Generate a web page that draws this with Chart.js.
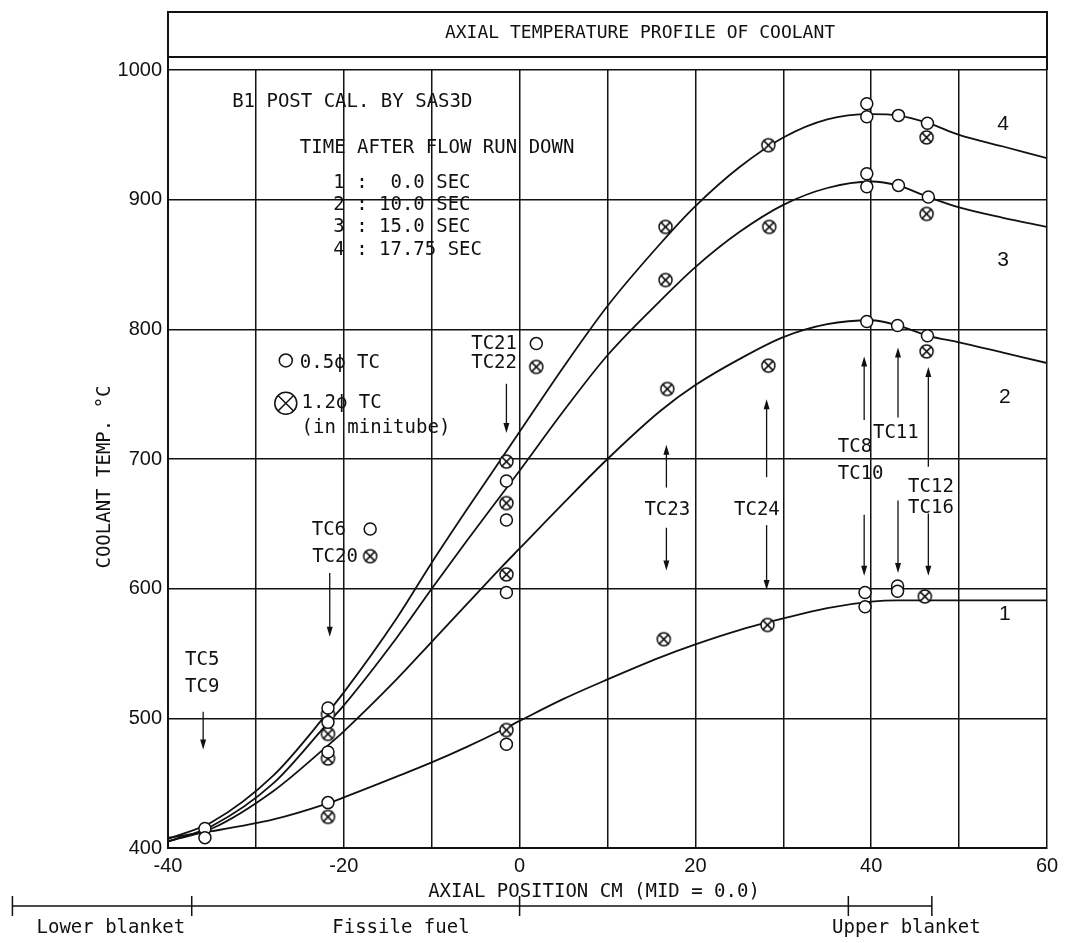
<!DOCTYPE html>
<html>
<head>
<meta charset="utf-8">
<script src="https://cdn.jsdelivr.net/npm/chart.js@4.4.1/dist/chart.umd.min.js"></script>
<style>
  html, body { margin: 0; padding: 0; background: #fff; }
</style>
</head>
<body>
<canvas id="chart" width="1067" height="943"></canvas>
<script>
// Axial positions (cm, mid-plane = 0) where the SAS3D curves are sampled
const positions = [-40, -35, -28, -22, -20, -14, -10, -6, -2, 0, 5, 10, 16, 20, 25, 30, 35, 40, 43, 46.5, 50, 55, 60];

// Calculated coolant temperature (°C) at 0.0, 10.0, 15.0 and 17.75 s after flow run down
const curve1 = [408, 413, 422, 434, 439, 455, 466, 478, 491, 498, 515, 530, 547, 557, 568, 577, 585, 590, 591, 591, 591, 591, 591];
const curve2 = [405, 415, 444, 478, 490, 530, 559, 588, 617, 631, 666, 700, 737, 757, 777, 794, 804, 807, 803, 795, 790, 782, 774];
const curve3 = [405, 417, 450, 495, 510, 562, 600, 637, 673, 691, 737, 780, 822, 848, 875, 896, 909, 914, 911, 902, 894, 886, 879];
const curve4 = [407, 420, 456, 503, 520, 577, 620, 661, 701, 721, 771, 818, 866, 895, 925, 948, 962, 966, 965, 959, 950, 941, 932];
const curveNames = ['1', '2', '3', '4'];

// Measured points, 0.5 mm TC (open circles)
const smallTcX = [-35.8, -35.8, -21.8, -21.8, -21.8, -21.8, -17, -1.5, -1.5, -1.5, -1.5, 1.9,
  39.5, 39.5, 43.1, 46.4, 39.5, 39.5, 43.1, 46.5, 39.5, 43.0, 46.4, 39.3, 39.3, 43.0, 43.0];
const smallTcY = [415, 408, 508, 497, 474, 435, 646, 683, 653, 597, 480, 789,
  974, 964, 965, 959, 920, 910, 911, 902, 806, 803, 795, 597, 586, 602, 598];

// Measured points, 1.2 mm TC in minitube (crossed circles)
const miniTcX = [-21.8, -21.8, -21.8, -21.8, -17, -1.5, -1.5, -1.5, -1.5, 1.9,
  16.6, 16.6, 16.8, 16.4, 28.3, 28.4, 28.3, 28.2, 46.3, 46.3, 46.3, 46.1];
const miniTcY = [503, 488, 469, 424, 625, 698, 666, 611, 491, 771,
  879, 838, 754, 561, 942, 879, 772, 572, 948, 889, 783, 594];

// Region boundaries along the pin (cm)
const regionEdges = [-57.7, -37.3, 0, 37.4, 46.9];

const mono = "'DejaVu Sans Mono', monospace";
const sans = "'Liberation Sans Narrow', 'Liberation Sans', Arial, sans-serif";
const ink = '#111';

function drawCrossCircle(g, x, y, r) {
  g.save();
  g.lineWidth = 1.5;
  g.strokeStyle = ink;
  g.fillStyle = '#fff';
  g.beginPath();
  g.arc(x, y, r, 0, Math.PI * 2);
  g.fill();
  g.stroke();
  const d = r * 0.7071;
  g.beginPath();
  g.moveTo(x - d, y - d); g.lineTo(x + d, y + d);
  g.moveTo(x + d, y - d); g.lineTo(x - d, y + d);
  g.stroke();
  g.restore();
}

function crossCircleStyle(r) {
  const size = Math.ceil(2 * r + 4);
  const c = document.createElement('canvas');
  c.width = c.height = size;
  drawCrossCircle(c.getContext('2d'), size / 2, size / 2, r);
  return c;
}

function arrow(g, x, yFrom, yTo) {
  const dir = yTo > yFrom ? 1 : -1;
  g.beginPath();
  g.moveTo(x, yFrom);
  g.lineTo(x, yTo - dir * 4);
  g.stroke();
  g.beginPath();
  g.moveTo(x, yTo);
  g.lineTo(x - 3, yTo - dir * 10);
  g.lineTo(x + 3, yTo - dir * 10);
  g.closePath();
  g.fill();
}

// text labels: [text, x, y, align]
const notes = [
  ['B1 POST CAL. BY SAS3D', -32.7, 975, 'left'],
  ['TIME AFTER FLOW RUN DOWN', -25, 940, 'left'],
  ['1 :  0.0 SEC', -21.2, 913, 'left'],
  ['2 : 10.0 SEC', -21.2, 896, 'left'],
  ['3 : 15.0 SEC', -21.2, 879, 'left'],
  ['4 : 17.75 SEC', -21.2, 861, 'left'],
  ['0.5\u03d5 TC', -25, 774, 'left'],
  ['1.2\u03d5 TC', -24.8, 743, 'left'],
  ['(in minitube)', -24.8, 724, 'left'],
  ['TC21', -2.9, 789, 'center'],
  ['TC22', -2.9, 774, 'center'],
  ['TC6', -21.7, 645, 'center'],
  ['TC20', -21.0, 624, 'center'],
  ['TC5', -36.1, 545, 'center'],
  ['TC9', -36.1, 524, 'center'],
  ['TC23', 16.8, 661, 'center'],
  ['TC24', 27.0, 661, 'center'],
  ['TC8', 36.2, 709, 'left'],
  ['TC10', 36.2, 688, 'left'],
  ['TC11', 40.2, 720, 'left'],
  ['TC12', 44.2, 678, 'left'],
  ['TC16', 44.2, 662, 'left']
];

// arrows: [x, from, to] in data units
const arrows = [
  [-1.5, 758, 720], [-21.6, 612, 563], [-36.0, 505, 476],
  [16.7, 678, 711], [16.7, 647, 614],
  [28.1, 686, 746], [28.1, 649, 599],
  [39.2, 730, 779], [39.2, 657, 610],
  [43.05, 732, 786], [43.05, 668, 612],
  [46.5, 694, 771], [46.5, 658, 610]
];

const curveLabelPos = [[55.2, 580], [55.2, 748], [55, 853], [55, 958]];

const annotate = {
  id: 'annotate',
  afterDraw(chart) {
    const g = chart.ctx;
    const xs = chart.scales.x, ys = chart.scales.y;
    const area = chart.chartArea;
    const px = v => xs.getPixelForValue(v);
    const py = v => ys.getPixelForValue(v);

    g.save();
    g.fillStyle = ink;
    g.strokeStyle = ink;

    // title box above the plot
    g.lineWidth = 2;
    g.strokeRect(area.left, 12, area.right - area.left, 45);
    g.beginPath();
    g.moveTo(area.left, 12); g.lineTo(area.left, area.top);
    g.moveTo(area.right, 12); g.lineTo(area.right, area.top);
    g.stroke();
    g.font = '18px ' + mono;
    g.textAlign = 'center';
    g.textBaseline = 'middle';
    g.fillText('AXIAL TEMPERATURE PROFILE OF COOLANT', 640, 33);

    // notes and TC labels
    g.font = '19px ' + mono;
    notes.forEach(([t, x, y, align]) => {
      g.textAlign = align;
      g.fillText(t, px(x), py(y));
    });

    // legend symbols
    g.lineWidth = 1.5;
    g.beginPath();
    g.arc(px(-26.6), py(776), 6.5, 0, Math.PI * 2);
    g.stroke();
    drawCrossCircle(g, px(-26.6), py(743), 11);

    // arrows
    g.lineWidth = 1.3;
    arrows.forEach(([x, a, b]) => arrow(g, px(x), py(a), py(b)));

    // curve numbers
    g.font = '21px ' + sans;
    g.textAlign = 'center';
    curveLabelPos.forEach(([x, y], i) => g.fillText(curveNames[i], px(x), py(y)));

    // axis titles
    g.font = '19px ' + mono;
    g.fillText('AXIAL POSITION CM (MID = 0.0)', 594, 892);
    g.save();
    g.translate(105, 477);
    g.rotate(-Math.PI / 2);
    g.fillText('COOLANT TEMP. \u00b0C', 0, 0);
    g.restore();

    // core region bar below the axis
    const barY = 906;
    g.lineWidth = 1.5;
    g.beginPath();
    g.moveTo(px(regionEdges[0]), barY);
    g.lineTo(px(regionEdges[regionEdges.length - 1]), barY);
    regionEdges.forEach(e => {
      g.moveTo(px(e), barY - 10);
      g.lineTo(px(e), barY + 10);
    });
    g.stroke();
    g.font = '19px ' + mono;
    g.fillText('Lower blanket', px(-46.5), 928);
    g.fillText('Fissile fuel', px(-13.5), 928);
    g.fillText('Upper blanket', px(44), 928);

    g.restore();
  }
};

const toPoints = (xs, ys) => xs.map((x, i) => ({ x: x, y: ys[i] }));

const curveDatasets = [curve1, curve2, curve3, curve4].map((c, i) => ({
  label: curveNames[i],
  data: toPoints(positions, c),
  showLine: true,
  pointRadius: 0,
  borderColor: ink,
  borderWidth: 1.8,
  cubicInterpolationMode: 'monotone',
  order: 1
}));

const ctx = document.getElementById('chart').getContext('2d');

new Chart(ctx, {
  type: 'scatter',
  data: {
    datasets: [
      {
        label: '0.5\u03d5 TC',
        data: toPoints(smallTcX, smallTcY),
        pointStyle: 'circle',
        pointRadius: 6,
        borderColor: ink,
        backgroundColor: '#fff',
        borderWidth: 1.5,
        order: 0
      },
      {
        label: '1.2\u03d5 TC',
        data: toPoints(miniTcX, miniTcY),
        pointStyle: crossCircleStyle(6.5),
        pointRadius: 7,
        order: 0
      },
      ...curveDatasets
    ]
  },
  options: {
    responsive: false,
    animation: false,
    devicePixelRatio: 1,
    layout: { padding: { top: 70, right: 20, bottom: 60, left: 0 } },
    plugins: {
      legend: { display: false },
      tooltip: { enabled: false }
    },
    scales: {
      x: {
        type: 'linear',
        min: -40,
        max: 60,
        afterFit: s => { s.height = 35; },
        ticks: {
          stepSize: 10,
          autoSkip: false,
          maxRotation: 0,
          padding: 6,
          color: ink,
          font: { family: sans, size: 20 },
          callback: v => (v % 20 === 0 ? String(v) : '')
        },
        grid: { color: ink, lineWidth: 1.5, drawTicks: false },
        border: { color: ink, width: 2 }
      },
      y: {
        min: 400,
        max: 1000,
        afterFit: s => { s.width = 168; },
        ticks: {
          stepSize: 100,
          padding: 6,
          color: ink,
          font: { family: sans, size: 20 },
          callback: v => String(v)
        },
        grid: { color: ink, lineWidth: 1.5, drawTicks: false },
        border: { color: ink, width: 2 }
      }
    }
  },
  plugins: [annotate]
});
</script>
</body>
</html>
